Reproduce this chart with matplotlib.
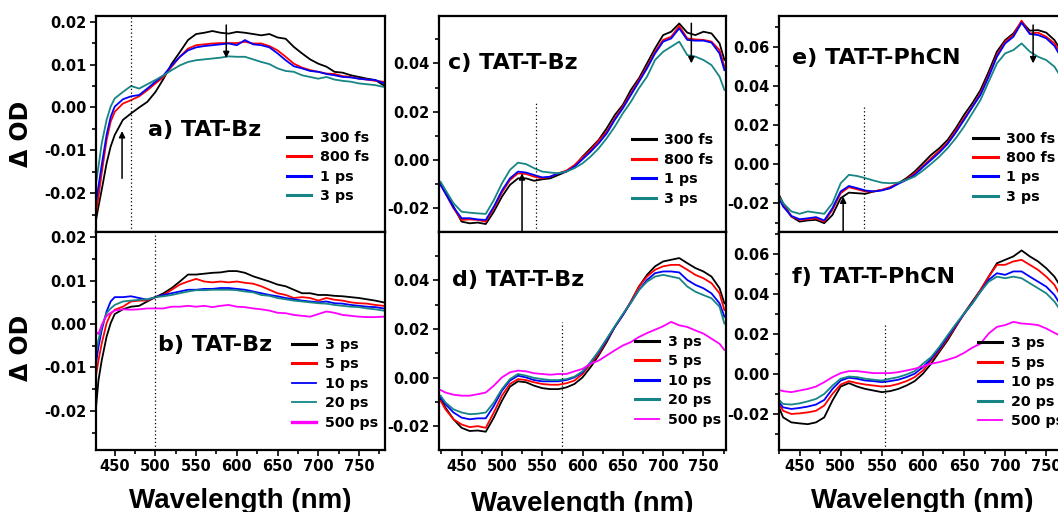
import matplotlib.pyplot as plt
from matplotlib.ticker import MultipleLocator, FormatStrFormatter

plt.rcParams['font.family'] = 'DejaVu Sans'
plt.rcParams['font.weight'] = 'bold'

# ---- transient absorption spectra (wavelength in nm, delta OD) ----
wl_ab = [427, 430, 434, 440, 445, 450, 460, 470, 480, 490, 500, 510, 520, 530,
         540, 550, 560, 570, 580, 590, 600, 610, 620, 630, 640, 650, 660, 670,
         680, 690, 700, 710, 720, 730, 740, 750, 760, 770, 780]

a_300fs = [-0.0262, -0.0231, -0.0192, -0.0130, -0.0091, -0.0064, -0.0029, -0.0014, 0.0000, 0.0013,
           0.0036, 0.0067, 0.0102, 0.0129, 0.0157, 0.0171, 0.0174, 0.0178, 0.0174, 0.0172,
           0.0176, 0.0174, 0.0171, 0.0168, 0.0171, 0.0163, 0.0160, 0.0141, 0.0126, 0.0112,
           0.0102, 0.0095, 0.0083, 0.0081, 0.0075, 0.0071, 0.0067, 0.0064, 0.0052]
a_800fs = [-0.0247, -0.0208, -0.0153, -0.0076, -0.0033, -0.0010, 0.0009, 0.0017, 0.0026, 0.0040,
           0.0056, 0.0071, 0.0095, 0.0118, 0.0137, 0.0145, 0.0147, 0.0149, 0.0150, 0.0150,
           0.0150, 0.0153, 0.0149, 0.0149, 0.0143, 0.0133, 0.0118, 0.0102, 0.0093, 0.0087,
           0.0083, 0.0079, 0.0078, 0.0073, 0.0071, 0.0067, 0.0065, 0.0062, 0.0060]
a_1ps = [-0.0223, -0.0184, -0.0134, -0.0064, -0.0022, 0.0002, 0.0019, 0.0026, 0.0029, 0.0044,
         0.0060, 0.0075, 0.0098, 0.0118, 0.0133, 0.0140, 0.0143, 0.0145, 0.0147, 0.0149,
         0.0145, 0.0157, 0.0147, 0.0145, 0.0140, 0.0126, 0.0110, 0.0096, 0.0091, 0.0085,
         0.0083, 0.0078, 0.0075, 0.0071, 0.0070, 0.0067, 0.0065, 0.0064, 0.0057]
a_3ps = [-0.0177, -0.0138, -0.0084, -0.0029, 0.0002, 0.0021, 0.0036, 0.0050, 0.0044, 0.0054,
         0.0064, 0.0075, 0.0087, 0.0098, 0.0106, 0.0110, 0.0112, 0.0114, 0.0116, 0.0119,
         0.0118, 0.0118, 0.0112, 0.0106, 0.0101, 0.0091, 0.0085, 0.0083, 0.0075, 0.0071,
         0.0067, 0.0071, 0.0065, 0.0062, 0.0060, 0.0056, 0.0054, 0.0052, 0.0048]

b_3ps = [-0.0192, -0.0130, -0.0084, -0.0029, 0.0002, 0.0023, 0.0034, 0.0040, 0.0042, 0.0052,
         0.0062, 0.0071, 0.0083, 0.0098, 0.0114, 0.0114, 0.0116, 0.0118, 0.0119, 0.0122,
         0.0122, 0.0118, 0.0110, 0.0104, 0.0098, 0.0091, 0.0087, 0.0079, 0.0071, 0.0071,
         0.0067, 0.0067, 0.0065, 0.0064, 0.0062, 0.0060, 0.0057, 0.0054, 0.0050]
b_5ps = [-0.0119, -0.0084, -0.0045, 0.0002, 0.0023, 0.0033, 0.0040, 0.0052, 0.0054, 0.0054,
         0.0062, 0.0067, 0.0079, 0.0091, 0.0098, 0.0104, 0.0098, 0.0096, 0.0098, 0.0096,
         0.0098, 0.0095, 0.0093, 0.0087, 0.0079, 0.0071, 0.0067, 0.0060, 0.0062, 0.0060,
         0.0054, 0.0060, 0.0056, 0.0054, 0.0050, 0.0048, 0.0047, 0.0044, 0.0042]
b_10ps = [-0.0091, -0.0053, -0.0014, 0.0029, 0.0052, 0.0062, 0.0062, 0.0064, 0.0060, 0.0056,
          0.0062, 0.0067, 0.0071, 0.0075, 0.0079, 0.0079, 0.0081, 0.0081, 0.0083, 0.0083,
          0.0081, 0.0079, 0.0075, 0.0071, 0.0067, 0.0064, 0.0060, 0.0057, 0.0054, 0.0052,
          0.0050, 0.0052, 0.0048, 0.0047, 0.0044, 0.0042, 0.0040, 0.0039, 0.0036]
b_20ps = [-0.0068, -0.0037, -0.0006, 0.0025, 0.0036, 0.0044, 0.0052, 0.0054, 0.0056, 0.0057,
          0.0062, 0.0064, 0.0067, 0.0071, 0.0075, 0.0078, 0.0078, 0.0079, 0.0079, 0.0079,
          0.0078, 0.0075, 0.0073, 0.0067, 0.0065, 0.0060, 0.0057, 0.0054, 0.0052, 0.0050,
          0.0048, 0.0047, 0.0044, 0.0042, 0.0040, 0.0039, 0.0036, 0.0034, 0.0031]
b_500ps = [-0.0018, -0.0023, -0.0002, 0.0019, 0.0026, 0.0031, 0.0034, 0.0033, 0.0034, 0.0036,
           0.0036, 0.0036, 0.0040, 0.0040, 0.0042, 0.0040, 0.0042, 0.0039, 0.0042, 0.0044,
           0.0040, 0.0039, 0.0036, 0.0034, 0.0031, 0.0026, 0.0025, 0.0021, 0.0019, 0.0017,
           0.0023, 0.0029, 0.0026, 0.0021, 0.0019, 0.0017, 0.0016, 0.0016, 0.0017]

wl_cd = [424, 430, 440, 450, 460, 470, 480, 490, 500, 510, 520, 530, 540, 550,
         560, 570, 580, 590, 600, 610, 620, 630, 640, 650, 660, 670, 680, 690,
         700, 710, 720, 730, 740, 750, 760, 770, 776]

c_300fs = [-0.0097, -0.0131, -0.0193, -0.0255, -0.0262, -0.0259, -0.0265, -0.0214, -0.0152, -0.0103,
           -0.0076, -0.0076, -0.0086, -0.0080, -0.0076, -0.0062, -0.0048, -0.0025, 0.0014, 0.0048,
           0.0083, 0.0131, 0.0186, 0.0228, 0.0290, 0.0338, 0.0400, 0.0462, 0.0517, 0.0531,
           0.0565, 0.0527, 0.0517, 0.0531, 0.0524, 0.0483, 0.0414]
c_800fs = [-0.0103, -0.0138, -0.0200, -0.0248, -0.0246, -0.0248, -0.0255, -0.0200, -0.0135, -0.0083,
           -0.0055, -0.0058, -0.0069, -0.0076, -0.0069, -0.0055, -0.0044, -0.0021, 0.0011, 0.0041,
           0.0080, 0.0117, 0.0172, 0.0221, 0.0276, 0.0331, 0.0386, 0.0448, 0.0497, 0.0510,
           0.0555, 0.0503, 0.0499, 0.0497, 0.0490, 0.0455, 0.0386]
c_1ps = [-0.0103, -0.0138, -0.0196, -0.0241, -0.0241, -0.0246, -0.0248, -0.0193, -0.0127, -0.0076,
         -0.0048, -0.0052, -0.0062, -0.0072, -0.0069, -0.0055, -0.0048, -0.0028, 0.0003, 0.0034,
         0.0069, 0.0110, 0.0166, 0.0214, 0.0269, 0.0324, 0.0379, 0.0441, 0.0490, 0.0503,
         0.0545, 0.0497, 0.0494, 0.0494, 0.0486, 0.0441, 0.0372]
c_3ps = [-0.0090, -0.0124, -0.0179, -0.0214, -0.0218, -0.0221, -0.0223, -0.0166, -0.0097, -0.0041,
         -0.0011, -0.0017, -0.0034, -0.0048, -0.0052, -0.0055, -0.0048, -0.0034, -0.0014, 0.0014,
         0.0048, 0.0090, 0.0138, 0.0193, 0.0241, 0.0297, 0.0345, 0.0414, 0.0448, 0.0469,
         0.0490, 0.0434, 0.0428, 0.0414, 0.0393, 0.0345, 0.0290]

d_3ps = [-0.0088, -0.0123, -0.0171, -0.0206, -0.0219, -0.0217, -0.0222, -0.0164, -0.0095, -0.0037,
         -0.0015, -0.0019, -0.0033, -0.0043, -0.0047, -0.0047, -0.0040, -0.0026, 0.0001, 0.0043,
         0.0091, 0.0146, 0.0208, 0.0257, 0.0312, 0.0374, 0.0422, 0.0457, 0.0477, 0.0484,
         0.0491, 0.0470, 0.0450, 0.0436, 0.0415, 0.0367, 0.0305]
d_5ps = [-0.0095, -0.0130, -0.0171, -0.0192, -0.0203, -0.0199, -0.0206, -0.0143, -0.0074, -0.0026,
         -0.0006, -0.0010, -0.0019, -0.0026, -0.0029, -0.0029, -0.0023, -0.0012, 0.0015, 0.0057,
         0.0098, 0.0153, 0.0208, 0.0257, 0.0312, 0.0374, 0.0415, 0.0443, 0.0457, 0.0463,
         0.0463, 0.0443, 0.0422, 0.0408, 0.0388, 0.0346, 0.0277]
d_10ps = [-0.0081, -0.0109, -0.0143, -0.0164, -0.0171, -0.0167, -0.0167, -0.0116, -0.0054, -0.0012,
          0.0008, 0.0001, -0.0010, -0.0015, -0.0015, -0.0015, -0.0010, 0.0001, 0.0022, 0.0063,
          0.0105, 0.0156, 0.0208, 0.0257, 0.0308, 0.0360, 0.0401, 0.0429, 0.0436, 0.0436,
          0.0432, 0.0401, 0.0381, 0.0367, 0.0346, 0.0305, 0.0250]
d_20ps = [-0.0074, -0.0102, -0.0130, -0.0143, -0.0150, -0.0148, -0.0143, -0.0102, -0.0047, -0.0006,
          0.0015, 0.0008, -0.0001, -0.0006, -0.0010, -0.0010, -0.0006, 0.0004, 0.0026, 0.0063,
          0.0109, 0.0160, 0.0211, 0.0261, 0.0308, 0.0360, 0.0394, 0.0415, 0.0422, 0.0415,
          0.0408, 0.0374, 0.0353, 0.0339, 0.0326, 0.0291, 0.0222]
d_500ps = [-0.0051, -0.0061, -0.0070, -0.0074, -0.0074, -0.0068, -0.0061, -0.0033, 0.0001, 0.0022,
           0.0029, 0.0026, 0.0018, 0.0015, 0.0012, 0.0015, 0.0015, 0.0026, 0.0036, 0.0057,
           0.0070, 0.0091, 0.0112, 0.0132, 0.0146, 0.0167, 0.0183, 0.0197, 0.0211, 0.0229,
           0.0215, 0.0208, 0.0194, 0.0181, 0.0160, 0.0139, 0.0114]

wl_ef = [425, 430, 440, 450, 460, 470, 480, 490, 500, 510, 520, 530, 540, 550,
         560, 570, 580, 590, 600, 610, 620, 630, 640, 650, 660, 670, 680, 690,
         700, 710, 720, 730, 740, 750, 760, 770]

e_300fs = [-0.0156, -0.0199, -0.0267, -0.0293, -0.0287, -0.0284, -0.0301, -0.0259, -0.0173, -0.0145,
           -0.0148, -0.0151, -0.0139, -0.0131, -0.0122, -0.0097, -0.0071, -0.0037, 0.0005, 0.0048,
           0.0082, 0.0124, 0.0184, 0.0252, 0.0311, 0.0379, 0.0473, 0.0575, 0.0634, 0.0668,
           0.0728, 0.0682, 0.0685, 0.0672, 0.0634, 0.0566]
e_800fs = [-0.0165, -0.0207, -0.0267, -0.0284, -0.0281, -0.0276, -0.0293, -0.0233, -0.0148, -0.0117,
           -0.0128, -0.0139, -0.0139, -0.0131, -0.0117, -0.0097, -0.0077, -0.0046, -0.0009, 0.0031,
           0.0070, 0.0111, 0.0172, 0.0235, 0.0294, 0.0362, 0.0456, 0.0558, 0.0626, 0.0660,
           0.0733, 0.0668, 0.0672, 0.0651, 0.0617, 0.0549]
e_1ps = [-0.0173, -0.0216, -0.0264, -0.0281, -0.0276, -0.0270, -0.0287, -0.0224, -0.0139, -0.0111,
         -0.0122, -0.0134, -0.0139, -0.0134, -0.0122, -0.0100, -0.0080, -0.0054, -0.0015, 0.0022,
         0.0060, 0.0104, 0.0162, 0.0226, 0.0291, 0.0354, 0.0447, 0.0549, 0.0617, 0.0651,
         0.0723, 0.0665, 0.0660, 0.0643, 0.0604, 0.0532]
e_3ps = [-0.0165, -0.0199, -0.0241, -0.0253, -0.0241, -0.0247, -0.0253, -0.0199, -0.0097, -0.0054,
         -0.0060, -0.0071, -0.0083, -0.0094, -0.0097, -0.0094, -0.0080, -0.0063, -0.0032, 0.0002,
         0.0039, 0.0082, 0.0133, 0.0192, 0.0260, 0.0328, 0.0422, 0.0515, 0.0566, 0.0583,
         0.0617, 0.0575, 0.0549, 0.0532, 0.0498, 0.0430]

f_3ps = [-0.0166, -0.0216, -0.0241, -0.0246, -0.0250, -0.0241, -0.0216, -0.0132, -0.0062, -0.0045,
         -0.0062, -0.0074, -0.0082, -0.0090, -0.0085, -0.0074, -0.0057, -0.0035, 0.0002, 0.0052,
         0.0111, 0.0169, 0.0236, 0.0303, 0.0362, 0.0420, 0.0487, 0.0554, 0.0571, 0.0588,
         0.0618, 0.0588, 0.0563, 0.0529, 0.0487, 0.0420]
f_5ps = [-0.0149, -0.0183, -0.0199, -0.0196, -0.0191, -0.0183, -0.0157, -0.0099, -0.0052, -0.0035,
         -0.0045, -0.0052, -0.0057, -0.0062, -0.0059, -0.0049, -0.0035, -0.0015, 0.0018, 0.0069,
         0.0119, 0.0178, 0.0240, 0.0300, 0.0357, 0.0420, 0.0487, 0.0546, 0.0546, 0.0563,
         0.0571, 0.0546, 0.0521, 0.0487, 0.0446, 0.0370]
f_10ps = [-0.0141, -0.0166, -0.0174, -0.0169, -0.0162, -0.0152, -0.0129, -0.0074, -0.0032, -0.0018,
          -0.0023, -0.0032, -0.0035, -0.0040, -0.0035, -0.0028, -0.0015, 0.0002, 0.0035, 0.0077,
          0.0127, 0.0186, 0.0245, 0.0300, 0.0353, 0.0412, 0.0471, 0.0504, 0.0496, 0.0513,
          0.0513, 0.0487, 0.0462, 0.0437, 0.0395, 0.0328]
f_20ps = [-0.0129, -0.0149, -0.0152, -0.0146, -0.0136, -0.0124, -0.0099, -0.0057, -0.0023, -0.0012,
          -0.0015, -0.0023, -0.0028, -0.0032, -0.0023, -0.0015, -0.0002, 0.0015, 0.0052, 0.0085,
          0.0136, 0.0194, 0.0250, 0.0303, 0.0353, 0.0412, 0.0462, 0.0487, 0.0479, 0.0487,
          0.0479, 0.0454, 0.0429, 0.0404, 0.0362, 0.0303]
f_500ps = [-0.0079, -0.0085, -0.0090, -0.0082, -0.0074, -0.0062, -0.0040, -0.0015, 0.0005, 0.0015,
           0.0015, 0.0010, 0.0005, 0.0005, 0.0005, 0.0010, 0.0018, 0.0027, 0.0039, 0.0052,
           0.0060, 0.0072, 0.0085, 0.0106, 0.0132, 0.0152, 0.0203, 0.0236, 0.0245, 0.0261,
           0.0253, 0.0250, 0.0245, 0.0228, 0.0206, 0.0186]

labels_fast = ['300 fs', '800 fs', '1 ps', '3 ps']
labels_slow = ['3 ps', '5 ps', '10 ps', '20 ps', '500 ps']
colors_fast = ['black', 'red', 'blue', '#178585']
colors_slow = ['black', 'red', 'blue', '#178585', '#ff00ff']

# ---- layout (pixel boxes on a 1058 x 512 canvas) ----
W, H = 1058, 512
fig = plt.figure(figsize=(W / 100, H / 100), dpi=100)


def box(x0, y0, x1, y1):
    return [x0 / W, 1 - y1 / H, (x1 - x0) / W, (y1 - y0) / H]


ax_a = fig.add_axes(box(96, 16, 385, 232))
ax_b = fig.add_axes(box(96, 232, 385, 450))
ax_c = fig.add_axes(box(439, 16, 726, 232))
ax_d = fig.add_axes(box(439, 232, 726, 450))
ax_e = fig.add_axes(box(779, 16, 1066, 232))
ax_f = fig.add_axes(box(779, 232, 1066, 450))


def style(ax, xlim, ylim, major, show_x):
    ax.set_xlim(*xlim)
    ax.set_ylim(*ylim)
    ax.xaxis.set_major_locator(MultipleLocator(50))
    ax.xaxis.set_minor_locator(MultipleLocator(25))
    ax.yaxis.set_major_locator(MultipleLocator(major))
    ax.yaxis.set_minor_locator(MultipleLocator(major / 2))
    ax.yaxis.set_major_formatter(FormatStrFormatter('%.2f'))
    ax.tick_params(which='both', direction='out', width=1.2, labelsize=10.5,
                   top=False, right=False, pad=2.5)
    ax.tick_params(which='major', length=4)
    ax.tick_params(which='minor', length=3)
    for s in ax.spines.values():
        s.set_linewidth(1.6)
    if not show_x:
        ax.tick_params(labelbottom=False)


def draw(ax, wl, series, labels, colors, anchor, handle_lw):
    for y, lab, c in zip(series, labels, colors):
        ax.plot(wl, y, color=c, lw=1.3, label=lab)
    leg = ax.legend(loc='upper left', bbox_to_anchor=anchor, frameon=False,
                    borderpad=0, borderaxespad=0, handlelength=1.7,
                    handletextpad=0.6, labelspacing=0.38, fontsize=10.3)
    for line, lw in zip(leg.get_lines(), handle_lw):
        line.set_linewidth(lw)


def marker(ax, x, top):
    lo = ax.get_ylim()[0]
    ax.plot([x, x], [lo, top], ls=(0, (1, 2)), color='black', lw=0.9)


def arrow(ax, x, y0, y1):
    ax.annotate('', xy=(x, y1), xytext=(x, y0),
                arrowprops=dict(arrowstyle='-|>', color='black', lw=1.1,
                                mutation_scale=9, shrinkA=0, shrinkB=0))


# a) TAT-Bz, early times
style(ax_a, (427, 782), (-0.029, 0.0213), 0.01, False)
draw(ax_a, wl_ab, [a_300fs, a_800fs, a_1ps, a_3ps], labels_fast, colors_fast,
     (0.66, 0.468), [2.2, 2.2, 2.2, 2.2])
marker(ax_a, 470, 0.0213)
arrow(ax_a, 459, -0.0165, -0.0055)
arrow(ax_a, 587, 0.0192, 0.0115)
ax_a.text(0.18, 0.472, 'a) TAT-Bz', transform=ax_a.transAxes, fontsize=16,
          fontweight='bold', va='center')

# b) TAT-Bz, late times
style(ax_b, (427, 782), (-0.029, 0.0212), 0.01, True)
draw(ax_b, wl_ab, [b_3ps, b_5ps, b_10ps, b_20ps, b_500ps], labels_slow, colors_slow,
     (0.677, 0.514), [2.2, 2.2, 1.3, 1.3, 2.4])
marker(ax_b, 500, 0.0212)
ax_b.text(0.215, 0.482, 'b) TAT-Bz', transform=ax_b.transAxes, fontsize=16,
          fontweight='bold', va='center')

# c) TAT-T-Bz, early times
style(ax_c, (422, 778), (-0.0298, 0.0596), 0.02, False)
draw(ax_c, wl_cd, [c_300fs, c_800fs, c_1ps, c_3ps], labels_fast, colors_fast,
     (0.671, 0.457), [2.2, 2.2, 2.2, 2.2])
marker(ax_c, 542, 0.0236)
arrow(ax_c, 525, -0.0298, -0.0055)
arrow(ax_c, 735, 0.0566, 0.040)
ax_c.text(0.032, 0.781, 'c) TAT-T-Bz', transform=ax_c.transAxes, fontsize=16,
          fontweight='bold', va='center')

# d) TAT-T-Bz, late times
style(ax_d, (422, 778), (-0.0297, 0.0598), 0.02, True)
draw(ax_d, wl_cd, [d_3ps, d_5ps, d_10ps, d_20ps, d_500ps], labels_slow, colors_slow,
     (0.683, 0.528), [2.2, 2.2, 2.2, 2.2, 1.3])
marker(ax_d, 575, 0.023)
ax_d.text(0.044, 0.78, 'd) TAT-T-Bz', transform=ax_d.transAxes, fontsize=16,
          fontweight='bold', va='center')

# e) TAT-T-PhCN, early times
style(ax_e, (425, 774), (-0.0346, 0.0757), 0.02, False)
draw(ax_e, wl_ef, [e_300fs, e_800fs, e_1ps, e_3ps], labels_fast, colors_fast,
     (0.677, 0.465), [2.2, 2.2, 2.2, 2.2])
marker(ax_e, 528, 0.030)
arrow(ax_e, 503, -0.0346, -0.0165)
arrow(ax_e, 734, 0.0711, 0.0515)
ax_e.text(0.044, 0.804, 'e) TAT-T-PhCN', transform=ax_e.transAxes, fontsize=16,
          fontweight='bold', va='center')

# f) TAT-T-PhCN, late times
style(ax_f, (425, 774), (-0.0379, 0.071), 0.02, True)
draw(ax_f, wl_ef, [f_3ps, f_5ps, f_10ps, f_20ps, f_500ps], labels_slow, colors_slow,
     (0.694, 0.521), [2.2, 2.2, 2.2, 2.2, 1.3])
marker(ax_f, 554, 0.025)
ax_f.text(0.044, 0.795, 'f) TAT-T-PhCN', transform=ax_f.transAxes, fontsize=16,
          fontweight='bold', va='center')

# axis titles
for ax, ypos in ((ax_a, 0.454), (ax_b, 0.468)):
    ax.set_ylabel('\u0394 OD', fontsize=17, fontweight='bold')
    ax.yaxis.set_label_coords(-0.218, ypos)

for ax, ypos in ((ax_b, -0.174), (ax_d, -0.186), (ax_f, -0.174)):
    ax.set_xlabel('Wavelength (nm)', fontsize=20, fontweight='bold',
                  family='Liberation Sans')
    ax.xaxis.set_label_coords(0.5, ypos)

fig.savefig('out.png', dpi=100)
